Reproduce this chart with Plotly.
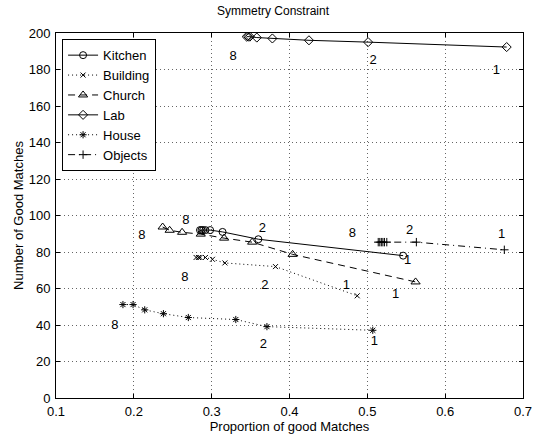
import plotly.graph_objects as go

kitchen_x = [0.285, 0.287, 0.289, 0.292, 0.298, 0.314, 0.360, 0.546]
kitchen_y = [92, 92, 92, 92, 92, 91, 87, 78]
building_x = [0.280, 0.283, 0.285, 0.292, 0.301, 0.317, 0.382, 0.487]
building_y = [77, 77, 77, 77, 76, 74, 72, 56]
church_x = [0.237, 0.246, 0.262, 0.286, 0.316, 0.352, 0.404, 0.562]
church_y = [93.7, 91.9, 90.8, 89.8, 87.6, 85.4, 78.7, 63.6]
lab_x = [0.345, 0.347, 0.349, 0.358, 0.378, 0.425, 0.501, 0.679]
lab_y = [198, 198, 198, 197.5, 197, 196, 195, 192.3]
house_x = [0.186, 0.199, 0.214, 0.238, 0.270, 0.331, 0.371, 0.507]
house_y = [51.2, 51.2, 48.3, 46.2, 44.1, 43.0, 39.1, 37.1]
objects_x = [0.514, 0.516, 0.518, 0.520, 0.522, 0.525, 0.563, 0.676]
objects_y = [85.4, 85.4, 85.4, 85.4, 85.4, 85.4, 85.4, 81.2]

label_text = ["8", "2", "1", "8", "8", "2", "8", "2", "8", "2", "8", "2", "1", "1", "1", "1", "1"]
label_x = [0.3276, 0.5073, 0.6657, 0.2669, 0.2104, 0.3653, 0.2656, 0.3683, 0.1757, 0.3664,
           0.4809, 0.5544, 0.6725, 0.5519, 0.4731, 0.5365, 0.5091]
label_y = [187.1, 184.9, 179.5, 97.4, 88.7, 92.6, 65.8, 61.4, 39.6, 29.0,
           89.8, 91.6, 89.4, 75.2, 61.7, 56.7, 30.9]

series = [
    ("Kitchen", kitchen_x, kitchen_y, "solid", "circle-open", 7),
    ("Building", building_x, building_y, "1px,3px", "x-thin-open", 5),
    ("Church", church_x, church_y, "7px,5px", "triangle-up-open", 8),
    ("Lab", lab_x, lab_y, "solid", "diamond-open", 7),
    ("House", house_x, house_y, "1px,3px", "asterisk-open", 6),
    ("Objects", objects_x, objects_y, "7px,4px,1px,4px", "cross-thin-open", 6),
]

FONT = "Liberation Sans, Arial, Helvetica"

fig = go.Figure()
for name, xs, ys, dash, sym, size in series:
    fig.add_trace(go.Scatter(
        x=xs, y=ys, name=name, mode="lines+markers",
        line=dict(color="black", width=1, dash=dash),
        marker=dict(symbol=sym, size=size, color="black",
                    line=dict(color="black", width=1)),
    ))

fig.add_trace(go.Scatter(
    x=label_x, y=label_y, mode="text", text=label_text, showlegend=False,
    textfont=dict(family=FONT, size=13, color="#000000"),
    hoverinfo="skip",
))

axis_common = dict(
    showline=True, linecolor="black", linewidth=1, mirror="ticks",
    ticks="inside", ticklen=4, tickcolor="black",
    showgrid=True, gridcolor="#666666", griddash="1px,3px", gridwidth=1,
    zeroline=False, tickfont=dict(size=13, color="black"),
)

fig.update_layout(
    width=546, height=440,
    margin=dict(l=56, r=23, t=33, b=40),
    paper_bgcolor="white", plot_bgcolor="white",
    font=dict(family=FONT, size=13, color="black"),
    title=dict(text="Symmetry Constraint", x=0.5, xanchor="center",
               y=0.975, yanchor="middle", font=dict(size=12)),
    xaxis=dict(range=[0.1, 0.7], dtick=0.1, tickformat=".1f",
               ticklabelstandoff=1,
               title=dict(text="Proportion of good Matches", standoff=0, font=dict(size=13)),
               **axis_common),
    yaxis=dict(range=[0, 200], dtick=20, ticklabelstandoff=2,
               title=dict(text="Number of Good Matches", standoff=2, font=dict(size=13)),
               **axis_common),
    legend=dict(x=0.013, y=0.983, xanchor="left", yanchor="top",
                bgcolor="white", bordercolor="black", borderwidth=1,
                font=dict(size=13), tracegroupgap=0,
                traceorder="normal"),
    showlegend=True,
)

fig.write_html("out.html")
